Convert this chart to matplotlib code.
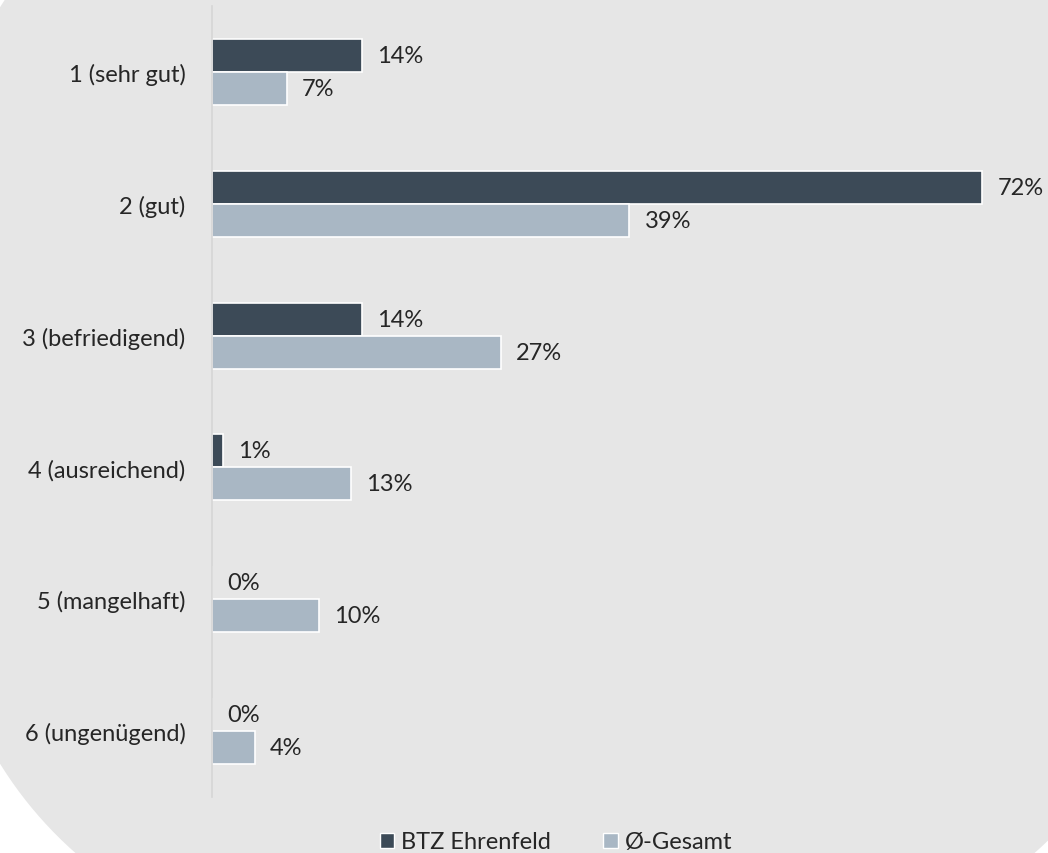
import matplotlib
matplotlib.use("Agg")
import matplotlib.pyplot as plt
from matplotlib.patches import Polygon, Patch
from matplotlib.transforms import IdentityTransform
import numpy as np

# Data
categories = ["1 (sehr gut)", "2 (gut)", "3 (befriedigend)", "4 (ausreichend)",
              "5 (mangelhaft)", "6 (ungenügend)"]
btz = [14, 72, 14, 1, 0, 0]
gesamt = [7, 39, 27, 13, 10, 4]
series_names = ["BTZ Ehrenfeld", "Ø-Gesamt"]

dark = "#3C4A57"
light = "#A9B7C4"
txt = "#262626"
FS = 17

plt.rcParams['font.family'] = ['Lato', 'DejaVu Sans']

W, H = 1048, 854
fig = plt.figure(figsize=(W / 100, H / 100), dpi=100, facecolor="white")


def rounded_rect(x0, y0, x1, y1, rl, rr):
    # polygon of a rectangle with circular corners (pixel coords, y up)
    pts = []
    for cx, cy, r, a0 in [(x1 - rr, y0 + rr, rr, -90), (x1 - rr, y1 - rr, rr, 0),
                          (x0 + rl, y1 - rl, rl, 90), (x0 + rl, y0 + rl, rl, 180)]:
        a = np.radians(np.linspace(a0, a0 + 90, 60))
        pts += list(zip(cx + r * np.cos(a), cy + r * np.sin(a)))
    return pts


# rounded grey panel behind the chart
bg = Polygon(rounded_rect(-60, -100, 1170, 1035, 400, 400), closed=True,
             transform=IdentityTransform(), facecolor="#E6E6E6", edgecolor="none",
             zorder=0)
fig.add_artist(bg)

ax = fig.add_axes([212 / W, (H - 798) / H, (1040 - 212) / W, 791 / H])
ax.set_facecolor("none")

y = np.arange(len(categories))
h = 0.25
ax.barh(y - h / 2, btz, height=h, color=dark, edgecolor="white", linewidth=1.2)
ax.barh(y + h / 2, gesamt, height=h, color=light, edgecolor="white", linewidth=1.2)

for i in range(len(categories)):
    ax.annotate(f"{btz[i]}%", (btz[i], y[i] - h / 2), xytext=(11, 0),
                textcoords="offset points", va="center", ha="left",
                fontsize=FS, color=txt)
    ax.annotate(f"{gesamt[i]}%", (gesamt[i], y[i] + h / 2), xytext=(11, 0),
                textcoords="offset points", va="center", ha="left",
                fontsize=FS, color=txt)

ax.set_xlim(0, 77.4)
ax.set_ylim(len(categories) - 0.5, -0.5)
ax.set_yticks(y)
ax.set_yticklabels(categories, fontsize=FS, color=txt)
ax.tick_params(axis="y", length=0, pad=19)
ax.set_xticks([])
for s in ["top", "right", "bottom"]:
    ax.spines[s].set_visible(False)
ax.spines["left"].set_color("#D6D6D6")
ax.spines["left"].set_linewidth(1.2)

handles = [Patch(facecolor=dark, edgecolor="white", label=series_names[0]),
           Patch(facecolor=light, edgecolor="white", label=series_names[1])]
leg = fig.legend(handles=handles, loc="center", bbox_to_anchor=(556 / W, 11 / H),
                 ncol=2, frameon=False, fontsize=FS, handlelength=0.62,
                 handleheight=0.62, handletextpad=0.3, columnspacing=2.2)
for t in leg.get_texts():
    t.set_color(txt)

fig.savefig("out.png", dpi=100, facecolor="white")
